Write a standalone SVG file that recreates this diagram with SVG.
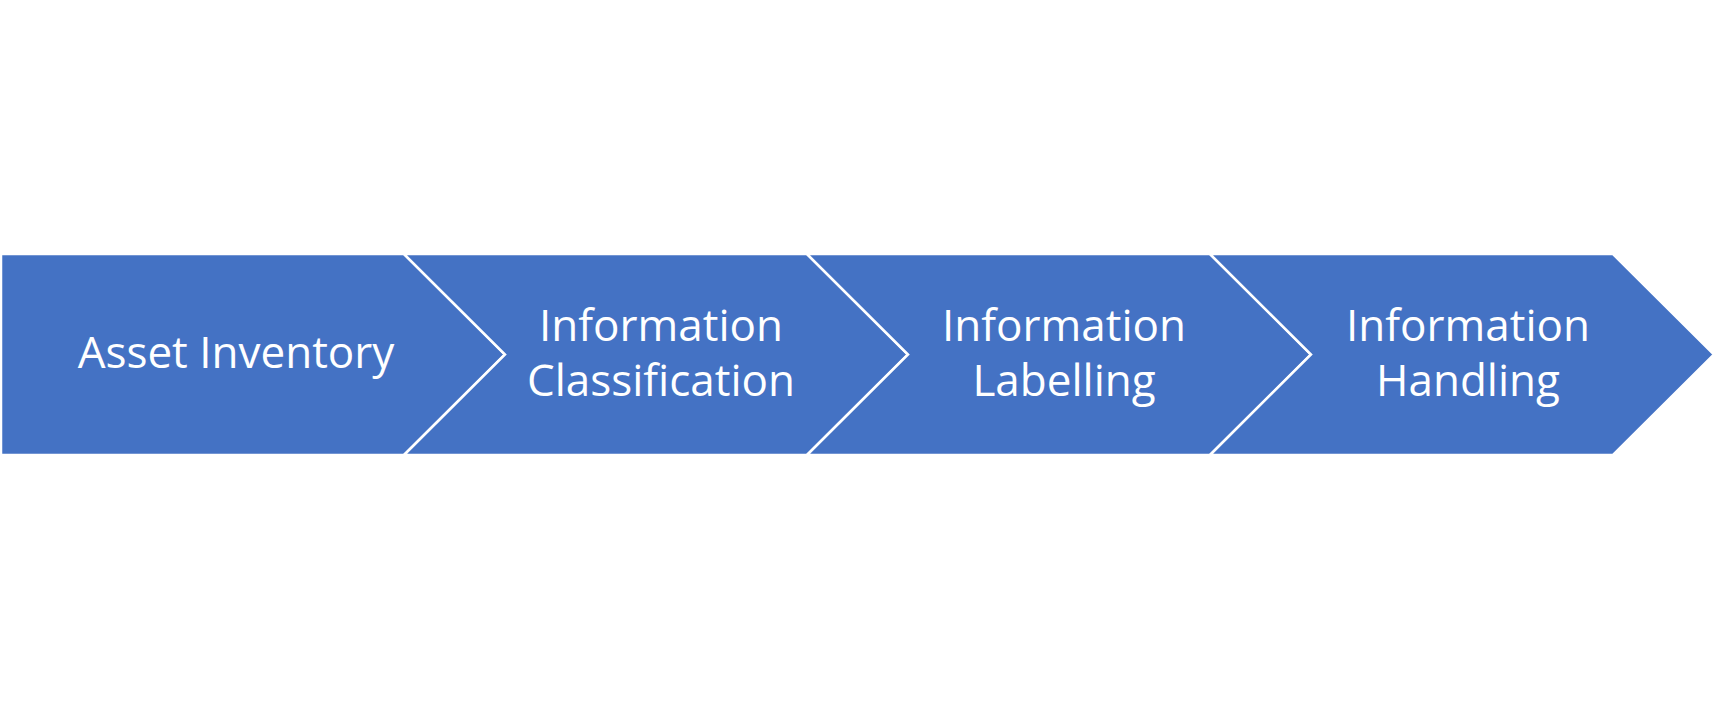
<svg xmlns="http://www.w3.org/2000/svg" width="1716" height="709" viewBox="0 0 1716 709">
  <style>
    .step { fill: #4472C4; stroke: #FFFFFF; stroke-width: 2.5; stroke-linejoin: miter; }
    .label { fill: #FFFFFF; font-family: "Open Sans", "Noto Sans", sans-serif; font-size: 44px; text-anchor: middle; }
  </style>
  <rect width="1716" height="709" fill="#FFFFFF"/>
  <g id="step-asset-inventory">
    <polygon class="step" points="1,254 404,254 505,354.5 404,455 1,455"/>
    <text class="label" x="236" y="368">Asset Inventory</text>
  </g>
  <g id="step-information-classification">
    <polygon class="step" points="404,254 807,254 908,354.5 807,455 404,455 505,354.5"/>
    <text class="label" x="661" y="341">Information</text>
    <text class="label" x="661" y="396">Classification</text>
  </g>
  <g id="step-information-labelling">
    <polygon class="step" points="807,254 1210,254 1311,354.5 1210,455 807,455 908,354.5"/>
    <text class="label" x="1064" y="341">Information</text>
    <text class="label" x="1064" y="396">Labelling</text>
  </g>
  <g id="step-information-handling">
    <polygon class="step" points="1210,254 1613,254 1714,354.5 1613,455 1210,455 1311,354.5"/>
    <text class="label" x="1468" y="341">Information</text>
    <text class="label" x="1468" y="396">Handling</text>
  </g>
  <g id="connectors"/>
</svg>
